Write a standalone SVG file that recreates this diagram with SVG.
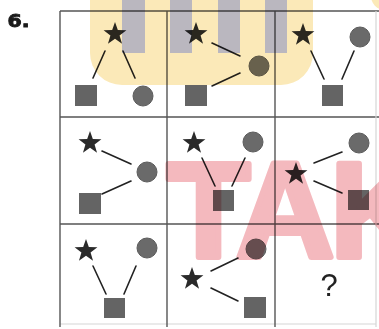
<svg xmlns="http://www.w3.org/2000/svg" xmlns:xlink="http://www.w3.org/1999/xlink" width="379" height="329" viewBox="0 0 379 329">
<defs>
<style>
.grid{stroke:#555;stroke-width:1.4;fill:none}
.faint{stroke:#d6d6d6;stroke-width:1.2;fill:none}
.star{fill:#2a2a2a}
.circ{fill:#6a6a6a;stroke:#5c5c5c;stroke-width:1}
.sq{fill:#646464}
.conn line{stroke:#222;stroke-width:1.6;stroke-linecap:round}
.lbl{font-family:"Liberation Sans",Arial,sans-serif;fill:#222}
.wm{mix-blend-mode:multiply}
</style>
<path id="star" d="M0,-12 L2.82,-3.88 L11.41,-3.71 L4.57,1.48 L7.05,9.71 L0,4.8 L-7.05,9.71 L-4.57,1.48 L-11.41,-3.71 L-2.82,-3.88 Z"/>
</defs>
<rect width="379" height="329" fill="#fff"/>

<text x="7.5" y="27" font-family="'DejaVu Sans','Liberation Sans',sans-serif" font-size="18" font-weight="bold" fill="#1a1a1a" stroke="#1a1a1a" stroke-width="0.9" textLength="22" lengthAdjust="spacingAndGlyphs">6.</text>

<g id="grid">
<line class="grid" x1="60" y1="11" x2="379" y2="11"/>
<line class="grid" x1="60" y1="117" x2="379" y2="117"/>
<line class="grid" x1="60" y1="224" x2="379" y2="224"/>
<line class="faint" x1="60" y1="324" x2="376" y2="324"/>
<line class="grid" x1="60" y1="11" x2="60" y2="327"/>
<line class="grid" x1="167" y1="11" x2="167" y2="327"/>
<line class="grid" x1="275" y1="11" x2="275" y2="327"/>
<line class="faint" x1="376" y1="11" x2="376" y2="327"/>
</g>

<g id="connectors" class="conn">
<line x1="105" y1="51" x2="93" y2="78"/>
<line x1="123" y1="51" x2="135" y2="78"/>
<line x1="212" y1="43" x2="240" y2="56"/>
<line x1="240" y1="73" x2="212" y2="86"/>
<line x1="311" y1="51" x2="324" y2="79"/>
<line x1="354" y1="51" x2="342" y2="79"/>
<line x1="102" y1="151" x2="131" y2="164"/>
<line x1="131" y1="181" x2="102" y2="194"/>
<line x1="202" y1="158" x2="215" y2="186"/>
<line x1="245" y1="158" x2="232" y2="186"/>
<line x1="314" y1="163" x2="342" y2="152"/>
<line x1="314" y1="181" x2="342" y2="193"/>
<line x1="93" y1="266" x2="106" y2="294"/>
<line x1="136" y1="266" x2="124" y2="294"/>
<line x1="211" y1="271" x2="238" y2="258"/>
<line x1="211" y1="288" x2="238" y2="301"/>
</g>

<g id="c1-star"><use href="#star" class="star" x="115" y="34"/></g>
<g id="c1-square"><rect class="sq" x="75" y="85" width="22" height="21"/></g>
<g id="c1-circle"><circle class="circ" cx="143" cy="96" r="10"/></g>

<g id="c2-star"><use href="#star" class="star" x="196" y="34"/></g>
<g id="c2-circle"><circle class="circ" cx="259" cy="66" r="10"/></g>
<g id="c2-square"><rect class="sq" x="185" y="85" width="22" height="21"/></g>

<g id="c3-star"><use href="#star" class="star" x="303" y="35"/></g>
<g id="c3-circle"><circle class="circ" cx="360" cy="37" r="10"/></g>
<g id="c3-square"><rect class="sq" x="322" y="85" width="21" height="21"/></g>

<g id="c4-star"><use href="#star" class="star" x="90" y="143"/></g>
<g id="c4-circle"><circle class="circ" cx="147" cy="172" r="10"/></g>
<g id="c4-square"><rect class="sq" x="79" y="193" width="22" height="21"/></g>

<g id="c5-star"><use href="#star" class="star" x="194" y="143"/></g>
<g id="c5-circle"><circle class="circ" cx="253" cy="142" r="10"/></g>
<g id="c5-square"><rect class="sq" x="213" y="190" width="21" height="21"/></g>

<g id="c6-star"><use href="#star" class="star" x="296" y="174"/></g>
<g id="c6-circle"><circle class="circ" cx="359" cy="143" r="10"/></g>
<g id="c6-square"><rect class="sq" x="348" y="190" width="21" height="20"/></g>

<g id="c7-star"><use href="#star" class="star" x="86" y="251"/></g>
<g id="c7-circle"><circle class="circ" cx="147" cy="248" r="10"/></g>
<g id="c7-square"><rect class="sq" x="104" y="298" width="21" height="20"/></g>

<g id="c8-star"><use href="#star" class="star" x="192" y="279"/></g>
<g id="c8-circle"><circle class="circ" cx="256" cy="249" r="10"/></g>
<g id="c8-square"><rect class="sq" x="244" y="297" width="22" height="21"/></g>

<g id="c9-question"><text class="lbl" x="329" y="296" font-size="31" text-anchor="middle">?</text></g>

<g id="watermark-yellow" class="wm">
<rect x="90" y="-40" width="223" height="125" rx="32" fill="#fbe9b8"/>
<circle cx="385" cy="-4" r="14" fill="#fbe9b8"/>
<g fill="#bab7bf">
<rect x="122" y="0" width="23" height="53"/>
<rect x="170" y="0" width="22" height="53"/>
<rect x="218" y="0" width="22" height="53"/>
<rect x="265" y="0" width="22" height="53"/>
</g>
</g>

<g id="watermark-red" class="wm">
<text x="167" y="257" font-family="'Liberation Sans',Arial,sans-serif" font-weight="bold" font-size="136" letter-spacing="-4" fill="#f4b9be" stroke="#f4b9be" stroke-width="6" stroke-linejoin="round">TAK</text>
</g>
</svg>
